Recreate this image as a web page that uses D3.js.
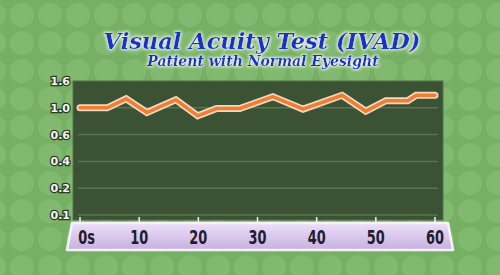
<!DOCTYPE html>
<html>
<head>
<meta charset="utf-8">
<script src="https://cdn.jsdelivr.net/npm/d3@7"></script>
<style>
  html, body { margin: 0; padding: 0; background: #76b064; }
  svg { display: block; }
</style>
</head>
<body>
<div id="chart"></div>
<script>
// Acuity readings over time
const seconds = [0, 4.6, 7.8, 11.3, 16.2, 19.9, 23.1, 27, 32.6, 37.7, 44.3, 48.3, 51.7, 55.4, 56.8, 60];
const acuity  = [1.0, 1.0, 1.2, 0.93, 1.18, 0.88, 0.99, 0.99, 1.25, 0.98, 1.28, 0.95, 1.16, 1.16, 1.28, 1.28];
const yTicks = [0.1, 0.2, 0.4, 0.6, 1.0, 1.6];
const xTicks = [0, 10, 20, 30, 40, 50, 60];

const width = 500, height = 275;
const plot = { left: 73, right: 443, top: 81, bottom: 220 };

const svg = d3.select('#chart').append('svg')
    .attr('width', width)
    .attr('height', height);

const defs = svg.append('defs');

// dotted background
const pat = defs.append('pattern')
    .attr('id', 'dots')
    .attr('patternUnits', 'userSpaceOnUse')
    .attr('width', 28).attr('height', 28)
    .attr('x', 8).attr('y', 1);
pat.append('rect').attr('width', 28).attr('height', 28).attr('fill', '#76b064');
pat.append('circle').attr('cx', 14).attr('cy', 14).attr('r', 12).attr('fill', '#8cc27b').attr('opacity', 0.5);

const bandGrad = defs.append('linearGradient')
    .attr('id', 'band').attr('x1', 0).attr('y1', 0).attr('x2', 0).attr('y2', 1);
bandGrad.append('stop').attr('offset', '0%').attr('stop-color', '#ece0f8');
bandGrad.append('stop').attr('offset', '100%').attr('stop-color', '#c6b0e0');

const glow = defs.append('filter').attr('id', 'glow')
    .attr('x', '-5%').attr('y', '-15%').attr('width', '110%').attr('height', '130%');
glow.append('feMorphology').attr('in', 'SourceAlpha').attr('operator', 'dilate').attr('radius', 1.2).attr('result', 'd');
glow.append('feGaussianBlur').attr('in', 'd').attr('stdDeviation', 1.8).attr('result', 'b');
glow.append('feFlood').attr('flood-color', '#ffffff').attr('flood-opacity', 0.8);
glow.append('feComposite').attr('in2', 'b').attr('operator', 'in').attr('result', 'g');
const gm = glow.append('feMerge');
gm.append('feMergeNode').attr('in', 'g');
gm.append('feMergeNode').attr('in', 'SourceGraphic');

svg.append('rect').attr('width', width).attr('height', height).attr('fill', 'url(#dots)');

// titles
svg.append('text')
    .attr('x', 262).attr('y', 49)
    .attr('text-anchor', 'middle')
    .attr('fill', '#1432c8')
    .attr('filter', 'url(#glow)')
    .style('font-family', '"DejaVu Serif", serif')
    .style('font-weight', 'bold')
    .style('font-style', 'italic')
    .style('font-size', '22.5px')
    .text('Visual Acuity Test (IVAD)');

svg.append('text')
    .attr('x', 263).attr('y', 66)
    .attr('text-anchor', 'middle')
    .attr('fill', '#1432c8')
    .attr('filter', 'url(#glow)')
    .style('font-family', '"DejaVu Serif", serif')
    .style('font-weight', 'bold')
    .style('font-style', 'italic')
    .style('font-size', '14px')
    .text('Patient with Normal Eyesight');

// scales
const x = d3.scaleLinear().domain([0, 60]).range([80, 435]);
const yPos = yTicks.map((d, i) => plot.bottom - 5 - i * 26.8);
const y = d3.scaleLinear().domain(yTicks).range(yPos);

// plot area
svg.append('rect')
    .attr('x', plot.left).attr('y', plot.top)
    .attr('width', plot.right - plot.left).attr('height', plot.bottom - plot.top)
    .attr('fill', '#3b5234')
    .attr('stroke', '#56704c')
    .attr('stroke-width', 1);

// gridlines
svg.append('g')
    .selectAll('line')
    .data(yTicks.filter(d => d !== 1.6))
    .enter()
    .append('line')
    .attr('x1', plot.left + 5).attr('x2', plot.right - 5)
    .attr('y1', d => y(d)).attr('y2', d => y(d))
    .attr('stroke', '#5a7351')
    .attr('stroke-width', 1.5);

// y labels
svg.append('g')
    .selectAll('text')
    .data(yTicks)
    .enter()
    .append('text')
    .attr('x', 70).attr('y', d => y(d) + 4)
    .attr('text-anchor', 'end')
    .attr('fill', '#f4f4ec')
    .attr('stroke', '#2e3a28')
    .attr('stroke-width', 2.5)
    .attr('paint-order', 'stroke')
    .style('font-family', '"DejaVu Sans", sans-serif')
    .style('font-weight', 'bold')
    .style('font-size', '11px')
    .text(d => d.toFixed(1));

// x band
svg.append('path')
    .attr('d', d3.line()([[72, 223], [448, 223], [453, 250], [67, 250]]) + 'Z')
    .attr('fill', 'url(#band)')
    .attr('stroke', '#f6f2f8')
    .attr('stroke-width', 2.5)
    .attr('stroke-linejoin', 'round');

// x ticks
svg.append('g')
    .selectAll('line')
    .data(xTicks)
    .enter()
    .append('line')
    .attr('x1', d => x(d)).attr('x2', d => x(d))
    .attr('y1', plot.bottom - 3).attr('y2', 223)
    .attr('stroke', '#f4f4ec')
    .attr('stroke-width', 1.5);

// condensed labels: squeeze horizontally around each label's centre
svg.append('g')
    .selectAll('text')
    .data(xTicks)
    .enter()
    .append('text')
    .attr('transform', d => `translate(${d === 0 ? 86.5 : x(d)},244) scale(0.68,1)`)
    .attr('text-anchor', 'middle')
    .attr('fill', '#231b2e')
    .style('font-family', '"DejaVu Sans", sans-serif')
    .style('font-weight', 'bold')
    .style('font-size', '19px')
    .text(d => d === 0 ? '0s' : d);

// data line
const line = d3.line()
    .x((d, i) => x(seconds[i]))
    .y(d => y(d));

svg.append('path')
    .datum(acuity)
    .attr('d', line)
    .attr('fill', 'none')
    .attr('stroke', '#f3d8c0')
    .attr('stroke-width', 7)
    .attr('stroke-linejoin', 'miter')
    .attr('stroke-linecap', 'round');

svg.append('path')
    .datum(acuity)
    .attr('d', line)
    .attr('fill', 'none')
    .attr('stroke', '#f07e32')
    .attr('stroke-width', 3.5)
    .attr('stroke-linejoin', 'miter')
    .attr('stroke-linecap', 'round');
</script>
</body>
</html>
